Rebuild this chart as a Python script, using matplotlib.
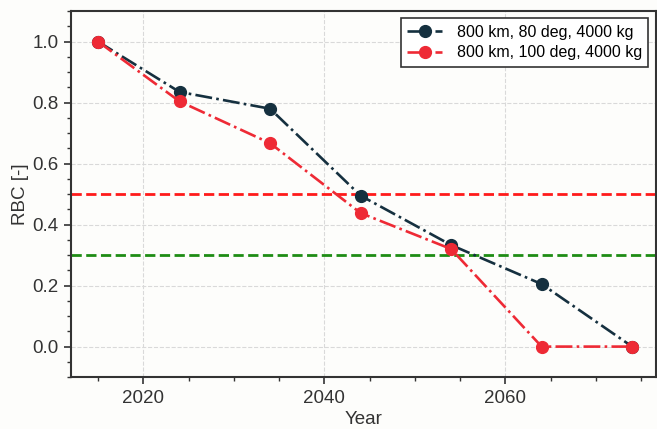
import matplotlib
matplotlib.use("Agg")
import matplotlib.pyplot as plt
from matplotlib.ticker import MultipleLocator

plt.rcParams['font.family'] = ['Liberation Sans', 'DejaVu Sans']

years = [2015, 2024, 2034, 2044, 2054, 2064, 2074]
rbc_80deg = [1.0, 0.835, 0.78, 0.495, 0.333, 0.205, 0.0]
rbc_100deg = [1.0, 0.804, 0.667, 0.438, 0.32, 0.0, 0.0]
labels = ['800 km, 80 deg, 4000 kg', '800 km, 100 deg, 4000 kg']
threshold_red = 0.5
threshold_green = 0.3

fig = plt.figure(figsize=(6.57, 4.29), dpi=100, facecolor='#fdfdfb')
ax = fig.add_axes([0.108, 0.121, 0.89, 0.853])
ax.set_facecolor('#fdfdfb')

ax.grid(True, which='major', color='#d9d9d9', linestyle='--', linewidth=0.8)
ax.set_axisbelow(True)

ax.plot(years, rbc_80deg, linestyle='-.', color='#15303f', linewidth=1.9,
        marker='o', markersize=8.5, label=labels[0], zorder=3)
ax.plot(years, rbc_100deg, linestyle='-.', color='#ee2a35', linewidth=1.9,
        marker='o', markersize=8.5, label=labels[1], zorder=3)
ax.axhline(threshold_red, color='#ff1a1a', linestyle='--', linewidth=2.0, zorder=2)
ax.axhline(threshold_green, color='#1e8c14', linestyle='--', linewidth=2.0, zorder=2)

ax.set_xlim(2012, 2076.6)
ax.set_ylim(-0.1, 1.1)
ax.xaxis.set_major_locator(MultipleLocator(20))
ax.xaxis.set_minor_locator(MultipleLocator(5))
ax.yaxis.set_major_locator(MultipleLocator(0.2))
ax.yaxis.set_minor_locator(MultipleLocator(0.05))
ax.yaxis.set_major_formatter(plt.FormatStrFormatter('%.1f'))

ax.tick_params(which='major', direction='out', length=5, width=1.2, colors='#333333',
               labelsize=13.5, labelcolor='#333333', top=False, right=False, pad=4)
ax.tick_params(which='minor', direction='out', length=3, width=1.0, colors='#333333',
               top=False, right=False)
for s in ax.spines.values():
    s.set_color('#333333')
    s.set_linewidth(1.5)

ax.set_xlabel('Year', fontsize=13.5, color='#333333', labelpad=3)
ax.set_ylabel('RBC [-]', fontsize=13.5, color='#333333', labelpad=2)

leg = ax.legend(loc='upper right', fontsize=11.5, fancybox=False, framealpha=1,
                edgecolor='#333333', borderpad=0.4, handlelength=2.2,
                handletextpad=0.9, labelspacing=0.35, borderaxespad=0.45)
leg.get_frame().set_linewidth(1.2)
leg.get_frame().set_facecolor('#ffffff')

fig.savefig('out.png', dpi=100, facecolor=fig.get_facecolor())
